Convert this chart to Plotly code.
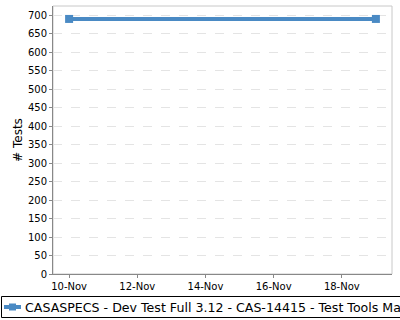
import plotly.graph_objects as go

dates = ["2023-11-10", "2023-11-19"]
tests = [690, 690]
series_name = "CASASPECS - Dev Test Full 3.12 - CAS-14415 - Test Tools Manager"
tick_vals = ["2023-11-10", "2023-11-12", "2023-11-14", "2023-11-16", "2023-11-18"]
tick_text = ["10-Nov", "12-Nov", "14-Nov", "16-Nov", "18-Nov"]
color = "#4a8ac4"

# plot area in pixels: x 53..392, y 6..274
L, R, T, B = 53, 392, 6, 274
def px(x): return (x - L) / (R - L)
def py(y): return (B - y) / (B - T)

fig = go.Figure()
fig.add_trace(go.Scatter(
    x=dates, y=tests, name=series_name, mode="lines+markers",
    line=dict(color=color, width=4),
    marker=dict(symbol="square", size=8, color=color),
    showlegend=False,
))
font = "DejaVu Sans"
fig.update_layout(
    width=400, height=320,
    margin=dict(l=L, r=400 - R, t=T, b=320 - B),
    paper_bgcolor="white", plot_bgcolor="white",
    font=dict(family=font, size=10, color="#000"),
    showlegend=False,
    xaxis=dict(range=["2023-11-09 12:40", "2023-11-19 11:20"],
               tickvals=tick_vals, ticktext=tick_text,
               showgrid=False, showline=True, linecolor="#888", linewidth=1,
               ticks="outside", ticklen=3, tickcolor="#888",
               zeroline=False),
    yaxis=dict(range=[0, 725], dtick=50, title=dict(text="# Tests", font=dict(size=12), standoff=2),
               showgrid=True, gridcolor="#e4e4e4", griddash="dash",
               showline=True, linecolor="#888", ticks="outside", ticklen=3, tickcolor="#888",
               zeroline=False),
)
# plot border (top/right lighter)
fig.add_shape(type="rect", xref="paper", yref="paper", x0=0, y0=0, x1=1, y1=1,
              line=dict(color="#c8c8c8", width=1), layer="below")
# legend box
fig.add_shape(type="rect", xref="paper", yref="paper",
              x0=px(1.5), x1=px(420), y0=py(296.5), y1=py(317.5),
              line=dict(color="#000", width=1), fillcolor="white")
fig.add_shape(type="line", xref="paper", yref="paper",
              x0=px(4), x1=px(21), y0=py(307), y1=py(307),
              line=dict(color=color, width=4))
fig.add_shape(type="rect", xref="paper", yref="paper",
              x0=px(9), x1=px(16), y0=py(303.5), y1=py(310.5),
              line=dict(width=0), fillcolor=color)
fig.add_annotation(xref="paper", yref="paper", x=px(23), y=py(307),
                   xanchor="left", yanchor="middle", showarrow=False,
                   text=series_name, font=dict(size=12.6, family=font, color="#000"))
fig.write_html("out.html")
